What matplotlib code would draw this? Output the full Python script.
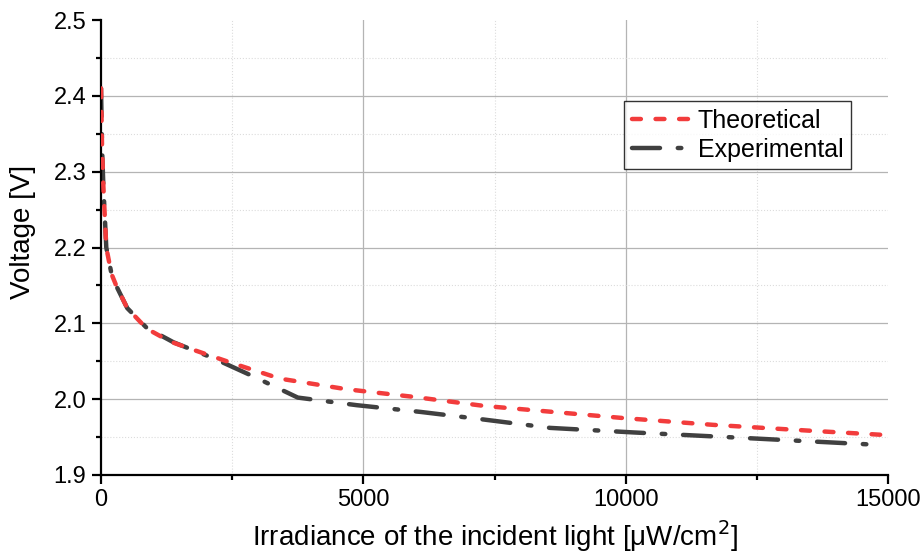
import matplotlib.pyplot as plt
from matplotlib.ticker import MultipleLocator

plt.rcParams['font.family'] = ['Liberation Sans', 'DejaVu Sans']

# theoretical curve (irradiance in uW/cm2, voltage in V)
theo_x = [0, 20, 45, 100, 200, 300, 500, 870, 1315, 1760, 2520, 3410, 4680,
          5950, 7300, 9950, 11670, 13580, 14850]
theo_v = [2.41, 2.33, 2.28, 2.20, 2.165, 2.148, 2.12, 2.093, 2.076, 2.065,
          2.047, 2.027, 2.013, 2.003, 1.991, 1.975, 1.966, 1.958, 1.953]

# measured curve
exp_x = [0, 20, 45, 100, 200, 300, 500, 870, 1380, 2140, 2900, 3750, 4870,
         6100, 7300, 8560, 10150, 12180, 14700]
exp_v = [2.41, 2.33, 2.28, 2.20, 2.165, 2.148, 2.12, 2.094, 2.075, 2.054,
         2.03, 2.002, 1.992, 1.983, 1.973, 1.962, 1.956, 1.949, 1.940]

xticks = [0, 5000, 10000, 15000]
xtick_labels = ['0', '5000', '10000', '15000']
yticks = [1.9, 2.0, 2.1, 2.2, 2.3, 2.4, 2.5]

fig = plt.figure(figsize=(9.21, 5.6), dpi=100)
ax = fig.add_axes([0.1097, 0.152, 0.8545, 0.812])

ax.plot(theo_x, theo_v, color='#f23c3c', lw=3.2, linestyle=(0, (2.0, 3.3)),
        dash_capstyle='round', label='Theoretical', zorder=3)
ax.plot(exp_x, exp_v, color='#404040', lw=3.2,
        linestyle=(0, (6.3, 4.0, 0.8, 4.0)),
        dash_capstyle='round', label='Experimental', zorder=2)

ax.set_xlim(0, 15000)
ax.set_ylim(1.9, 2.5)
ax.set_xticks(xticks)
ax.set_xticklabels(xtick_labels)
ax.set_yticks(yticks)
ax.set_yticklabels(['%.1f' % v for v in yticks])
ax.xaxis.set_minor_locator(MultipleLocator(2500))
ax.yaxis.set_minor_locator(MultipleLocator(0.05))

ax.spines['top'].set_visible(False)
ax.spines['right'].set_visible(False)
for s in ['left', 'bottom']:
    ax.spines[s].set_linewidth(1.6)
ax.tick_params(which='major', direction='out', length=6.5, width=1.6,
               labelsize=17, pad=4)
ax.tick_params(which='minor', direction='out', length=3.6, width=1.6)

ax.grid(which='major', color='#b4b4b4', lw=0.9, ls='-')
ax.grid(which='minor', color='#dcdcdc', lw=0.8, ls=':')
ax.set_axisbelow(True)
# no gridlines on the plot edges
for t in ax.xaxis.get_major_ticks():
    if t.get_loc() in (0, 15000):
        t.gridline.set_visible(False)
for t in ax.yaxis.get_major_ticks():
    if t.get_loc() in (1.9, 2.5):
        t.gridline.set_visible(False)

ax.set_xlabel('Irradiance of the incident light [μW/cm$^2$]', fontsize=20,
              labelpad=5)
ax.set_ylabel('Voltage [V]', fontsize=20)
ax.yaxis.set_label_coords(-0.083, 0.534)

leg = ax.legend(loc='upper right', bbox_to_anchor=(0.953, 0.822), fontsize=18,
                frameon=True, fancybox=False, handlelength=2.3,
                handletextpad=0.35, borderpad=0.3, labelspacing=0.2,
                borderaxespad=0)
leg.get_frame().set_edgecolor('black')
leg.get_frame().set_linewidth(1.0)

fig.savefig('out.png', dpi=100)
